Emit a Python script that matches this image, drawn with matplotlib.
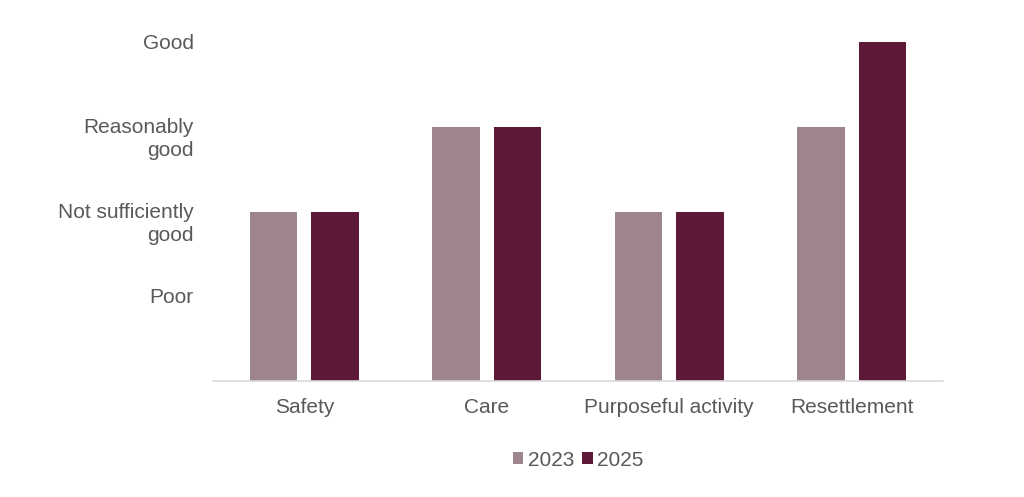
import matplotlib.pyplot as plt
import matplotlib.transforms as mtransforms
import numpy as np

plt.rcParams['font.family'] = ['Liberation Sans', 'DejaVu Sans']

categories = ['Safety', 'Care', 'Purposeful activity', 'Resettlement']
years = ['2023', '2025']
# 1 = Poor, 2 = Not sufficiently good, 3 = Reasonably good, 4 = Good
scores_2023 = [2, 3, 2, 3]
scores_2025 = [2, 3, 2, 4]
level_labels = ['Poor', 'Not sufficiently\ngood', 'Reasonably\ngood', 'Good']
level_values = [1, 2, 3, 4]

colors = ['#9E858C', '#5E1838']
text_color = '#595959'
fs = 15

fig = plt.figure(figsize=(10.24, 4.97), dpi=100)
ax = fig.add_axes([0.208, 0.2334, 0.713, 0.682])

x = np.arange(len(categories))
w = 0.26
gap = 0.077
ax.bar(x - (w + gap) / 2, scores_2023, w, color=colors[0], label=years[0])
ax.bar(x + (w + gap) / 2, scores_2025, w, color=colors[1], label=years[1])

ax.set_xlim(-0.5, len(categories) - 0.5)
ax.set_ylim(0, 4)

ax.set_xticks(x)
ax.set_xticklabels(categories, fontsize=fs, color=text_color)
ax.tick_params(axis='x', length=0, pad=12)

ax.set_yticks(level_values)
ax.set_yticklabels(level_labels, fontsize=fs, color=text_color, linespacing=1.25)
ax.tick_params(axis='y', length=0, pad=14)
offset = mtransforms.ScaledTranslation(0, 6 / 72, fig.dpi_scale_trans)
for lab in ax.get_yticklabels():
    lab.set_verticalalignment('top')
    lab.set_transform(lab.get_transform() + offset)

for s in ['top', 'right', 'left']:
    ax.spines[s].set_visible(False)
ax.spines['bottom'].set_color('#D9D9D9')
ax.spines['bottom'].set_linewidth(1.2)

leg = ax.legend(loc='upper center', bbox_to_anchor=(0.5, -0.15), ncol=2,
                frameon=False, fontsize=fs, handlelength=0.5, handleheight=0.5,
                handletextpad=0.2, columnspacing=0.4)
for t in leg.get_texts():
    t.set_color(text_color)

fig.savefig('out.png', dpi=100)
